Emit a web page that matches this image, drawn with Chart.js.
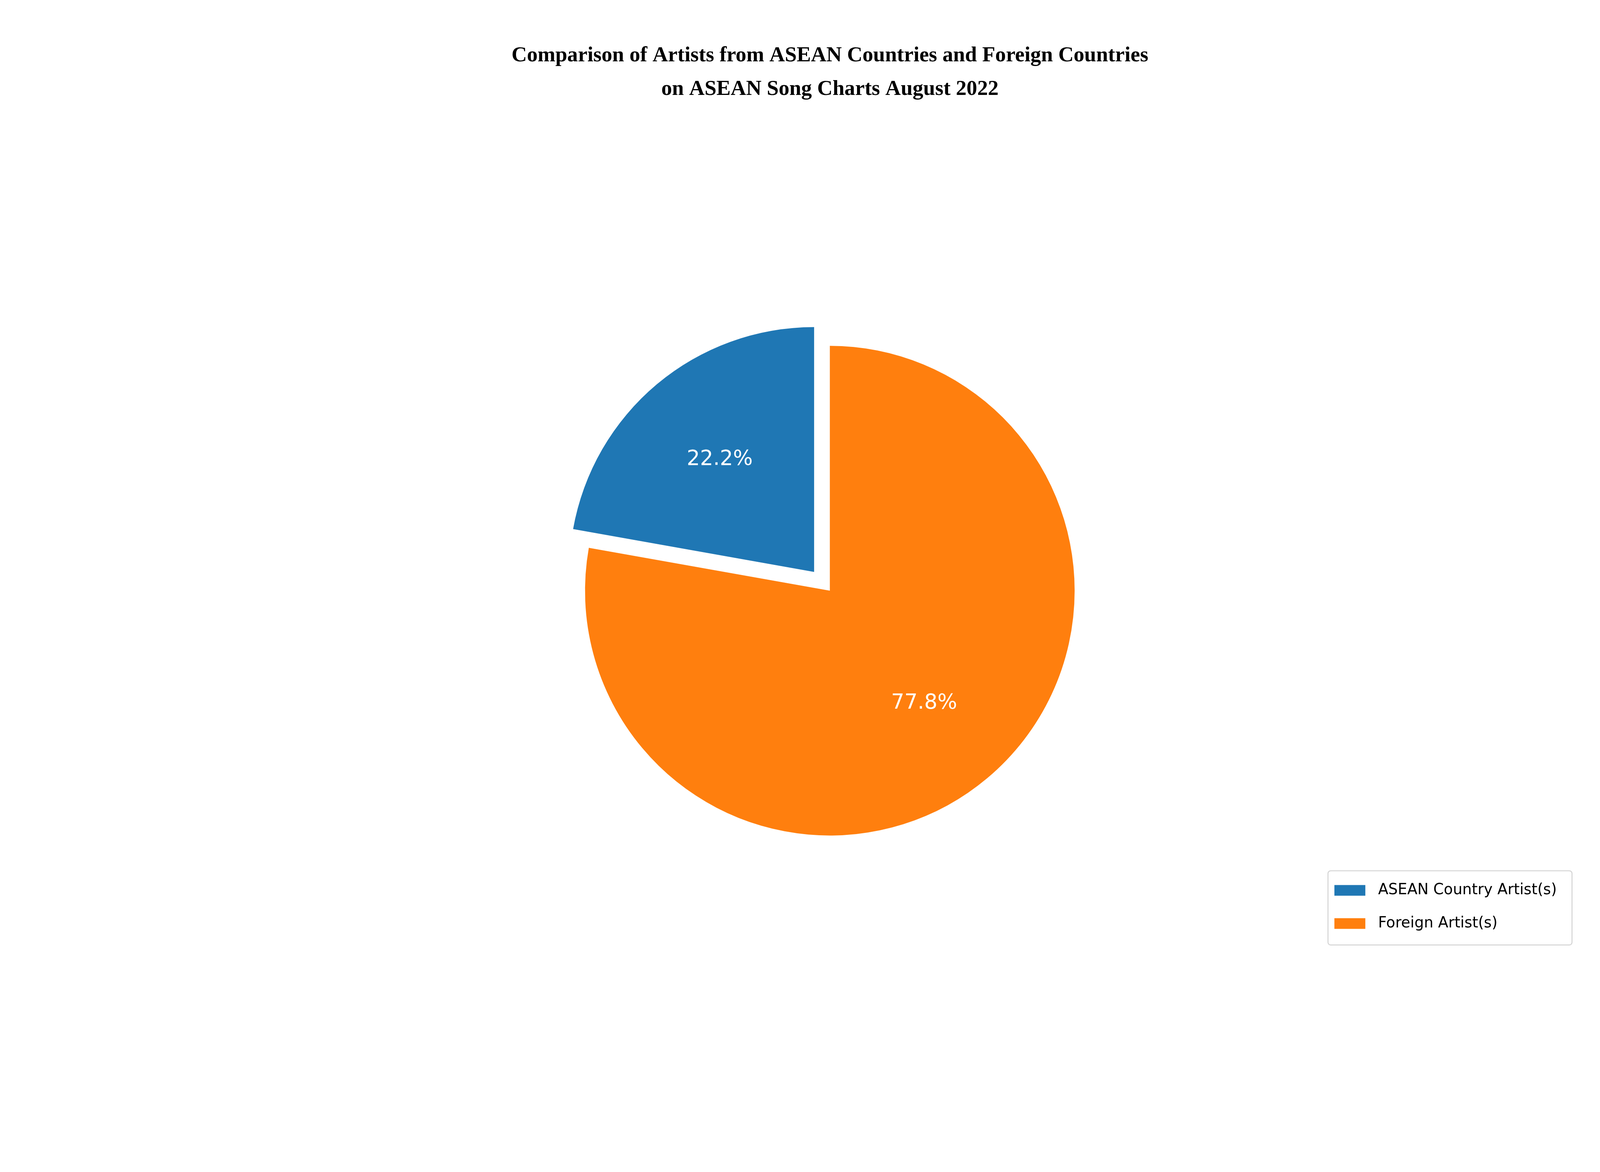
<!DOCTYPE html>
<html>
<head>
<meta charset="utf-8">
<script src="https://cdn.jsdelivr.net/npm/chart.js@4/dist/chart.umd.min.js"></script>
<style>
  html, body { margin: 0; padding: 0; background: #ffffff; overflow: hidden; }
  #wrap { position: relative; width: 100vw; height: 100vh; }
</style>
</head>
<body>
<div id="wrap"><canvas id="pieChart"></canvas></div>
<script>
// Chart data
const labels = ['ASEAN Country Artist(s)', 'Foreign Artist(s)'];
const values = [22.2, 77.8];
const colors = ['#1f77b4', '#ff7f0e'];
const explode = [0.1, 0];
const titleLines = [
    'Comparison of Artists from ASEAN Countries and Foreign Countries',
    'on ASEAN Song Charts August 2022'
];

// Draw arcs with the exploded slice shifted out
const explodePlugin = {
    id: 'explode',
    beforeDatasetDraw(chart, args) {
        const ctx = chart.ctx;
        args.meta.data.forEach((arc, i) => {
            const mid = (arc.startAngle + arc.endAngle) / 2;
            const d = explode[i] * arc.outerRadius;
            ctx.save();
            ctx.translate(Math.cos(mid) * d, Math.sin(mid) * d);
            arc.draw(ctx);
            ctx.restore();
        });
        return false;
    }
};

// Title, percent labels and legend
const overlayPlugin = {
    id: 'overlay',
    afterDraw(chart) {
        const ctx = chart.ctx;
        const W = chart.width, H = chart.height;
        const s = W / 6000;
        const meta = chart.getDatasetMeta(0);
        ctx.save();

        ctx.fillStyle = '#000000';
        ctx.font = 'bold ' + (80 * s) + 'px "Liberation Serif"';
        ctx.textAlign = 'center';
        ctx.textBaseline = 'middle';
        ctx.fillText(titleLines[0], W * 0.5187, H * 0.0477);
        ctx.fillText(titleLines[1], W * 0.5187, H * 0.0763);

        ctx.font = (78 * s) + 'px "DejaVu Sans"';
        ctx.fillStyle = '#ffffff';
        meta.data.forEach((arc, i) => {
            const mid = (arc.startAngle + arc.endAngle) / 2;
            const r = arc.outerRadius * (0.6 + explode[i]);
            ctx.fillText(values[i].toFixed(1) + '%', arc.x + Math.cos(mid) * r, arc.y + Math.sin(mid) * r);
        });

        ctx.fillStyle = '#ffffff';
        ctx.strokeStyle = '#d6d6d6';
        ctx.lineWidth = 4 * s;
        ctx.beginPath();
        ctx.roundRect(W * 0.83, H * 0.743, W * 0.1525, H * 0.0633, 10 * s);
        ctx.fill();
        ctx.stroke();
        ctx.font = (56 * s) + 'px "DejaVu Sans"';
        ctx.textAlign = 'left';
        labels.forEach((label, i) => {
            const y = H * (0.7597 + i * 0.0283);
            ctx.fillStyle = colors[i];
            ctx.fillRect(W * 0.834, y - 20 * s, 116 * s, 40 * s);
            ctx.fillStyle = '#000000';
            ctx.fillText(label, W * 0.8613, y);
        });
        ctx.restore();
    }
};

new Chart(document.getElementById('pieChart').getContext('2d'), {
    type: 'pie',
    data: {
        labels: labels,
        datasets: [{
            data: values,
            backgroundColor: colors,
            borderWidth: 0
        }]
    },
    options: {
        responsive: true,
        maintainAspectRatio: false,
        animation: false,
        rotation: -79.92,
        radius: ctx => ctx.chart.width * 0.153,
        layout: {
            padding: ctx => ({
                left: ctx.chart.width * 0.0373,
                right: 0,
                top: ctx.chart.height * 0.008,
                bottom: 0
            })
        },
        plugins: {
            legend: { display: false },
            title: { display: false },
            tooltip: { enabled: false }
        }
    },
    plugins: [explodePlugin, overlayPlugin]
});
</script>
</body>
</html>
